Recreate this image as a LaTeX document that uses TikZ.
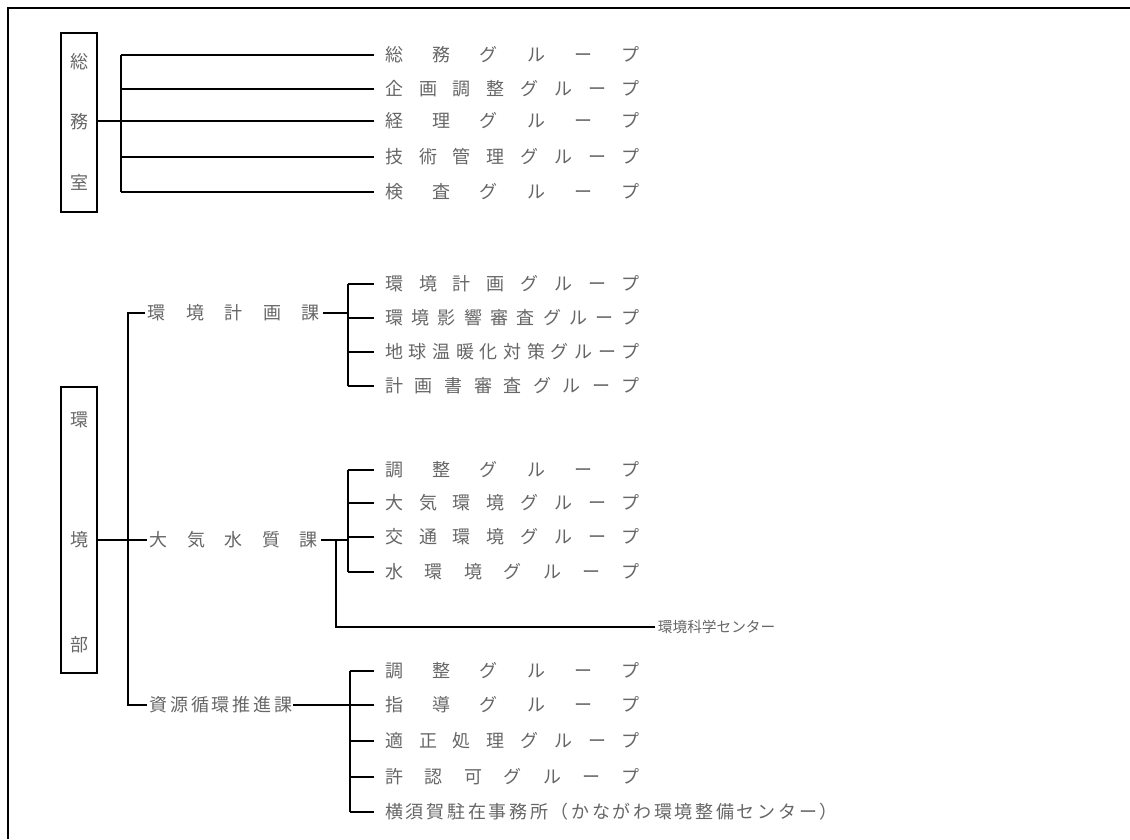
\documentclass[tikz,border=0pt]{standalone}
\usepackage{fontspec}
\setmainfont{Noto Sans CJK JP}
\newlength\rowW \setlength\rowW{191pt}
\newlength\longW \setlength\longW{337pt}
\newcommand\spr[2]{\makebox[#1][s]{#2}}
\begin{document}
\begin{tikzpicture}[x=0.75pt,y=-0.75pt,
  ln/.style={line width=1.4pt,black},
  frame/.style={line width=2pt,black},
  boxn/.style={draw,line width=1.4pt,minimum width=27pt,inner sep=0pt},
  ch/.style={text=black!60,font=\fontsize{13.5}{15}\selectfont,inner sep=0pt},
  row/.style={text=black!60,font=\fontsize{13.5}{15}\selectfont,anchor=west,inner ysep=0pt,inner xsep=8.25pt},
  lab/.style={text=black!60,font=\fontsize{13.5}{15}\selectfont,inner ysep=0pt,inner xsep=2pt}]
\useasboundingbox (0,0) rectangle (1130,839);
% outer frame
\coordinate (fa) at (8,839);
\coordinate (fb) at (8,8);
\coordinate (fc) at (1130,8);
\draw[frame] (fa) -- (fb) -- (fc);

% ---------- 総務室 ----------
\node[boxn,minimum height=134.25pt] (box1) at (79,122.5) {};
\node[ch] (c11) at (79,62) {総};
\node[ch] (c12) at (79,122) {務};
\node[ch] (c13) at (79,182) {室};
\node[row] (g11) at (374,55) {\spr{\rowW}{総 務 グ ル ー プ}};
\node[row] (g12) at (374,89) {\spr{\rowW}{企 画 調 整 グ ル ー プ}};
\node[row] (g13) at (374,121) {\spr{\rowW}{経 理 グ ル ー プ}};
\node[row] (g14) at (374,157) {\spr{\rowW}{技 術 管 理 グ ル ー プ}};
\node[row] (g15) at (374,192) {\spr{\rowW}{検 査 グ ル ー プ}};
\coordinate (v1) at (121,121);
\draw[ln] (box1.east |- v1) -- (v1);
\draw[ln] (v1 |- g11.west) -- (v1 |- g15.west);
\foreach \i in {1,...,5} \draw[ln] (v1 |- g1\i.west) -- (g1\i.west);

% ---------- 環境部 ----------
\node[boxn,minimum height=214.5pt] (box2) at (79,530) {};
\node[ch] (c21) at (79,420) {環};
\node[ch] (c22) at (79,540) {境};
\node[ch] (c23) at (79,645) {部};

\node[lab,anchor=west] (la) at (145,313) {\spr{129pt}{環 境 計 画 課}};
\node[lab,anchor=west] (lb) at (147,540) {\spr{126pt}{大 気 水 質 課}};
\node[lab,anchor=west] (lc) at (147,705) {\spr{105pt}{資 源 循 環 推 進 課}};

\coordinate (mtop) at (128,313);
\coordinate (mbot) at (128,705);
\draw[ln] (la.west) -- (mtop) -- (mbot) -- (lc.west);
\draw[ln] (box2.east |- lb.west) -- (lb.west);

% group A
\node[row] (gA1) at (374,284) {\spr{\rowW}{環 境 計 画 グ ル ー プ}};
\node[row] (gA2) at (374,318) {\spr{\rowW}{環 境 影 響 審 査 グ ル ー プ}};
\node[row] (gA3) at (374,352) {\spr{\rowW}{地 球 温 暖 化 対 策 グ ル ー プ}};
\node[row] (gA4) at (374,386) {\spr{\rowW}{計 画 書 審 査 グ ル ー プ}};
\coordinate (vA) at (348,313);
\draw[ln] (la.east) -- (vA);
\draw[ln] (vA |- gA1.west) -- (vA |- gA4.west);
\foreach \i in {1,...,4} \draw[ln] (vA |- gA\i.west) -- (gA\i.west);

% group B
\node[row] (gB1) at (374,470) {\spr{\rowW}{調 整 グ ル ー プ}};
\node[row] (gB2) at (374,503) {\spr{\rowW}{大 気 環 境 グ ル ー プ}};
\node[row] (gB3) at (374,537) {\spr{\rowW}{交 通 環 境 グ ル ー プ}};
\node[row] (gB4) at (374,572) {\spr{\rowW}{水 環 境 グ ル ー プ}};
\coordinate (vB) at (348,540);
\coordinate (dB) at (336,540);
\draw[ln] (lb.east) -- (vB);
\draw[ln] (vB |- gB1.west) -- (vB |- gB4.west);
\foreach \i in {1,...,4} \draw[ln] (vB |- gB\i.west) -- (gB\i.west);
\node[text=black!60,font=\fontsize{11}{12}\selectfont,anchor=west,inner xsep=2pt,inner ysep=0pt] (ctr) at (655,627) {環境科学センター};
\draw[ln] (dB) |- (ctr.west);

% group C
\node[row] (gC1) at (374,671) {\spr{\rowW}{調 整 グ ル ー プ}};
\node[row] (gC2) at (374,705) {\spr{\rowW}{指 導 グ ル ー プ}};
\node[row] (gC3) at (374,741) {\spr{\rowW}{適 正 処 理 グ ル ー プ}};
\node[row] (gC4) at (374,777) {\spr{\rowW}{許 認 可 グ ル ー プ}};
\node[row] (gC5) at (374,812) {\spr{\longW}{横 須 賀 駐 在 事 務 所 （ か な が わ 環 境 整 備 セ ン タ ー ）}};
\coordinate (vC) at (350,705);
\draw[ln] (lc.east) -- (gC2.west);
\draw[ln] (vC |- gC1.west) -- (vC |- gC5.west);
\foreach \i in {1,3,4,5} \draw[ln] (vC |- gC\i.west) -- (gC\i.west);
\end{tikzpicture}
\end{document}
